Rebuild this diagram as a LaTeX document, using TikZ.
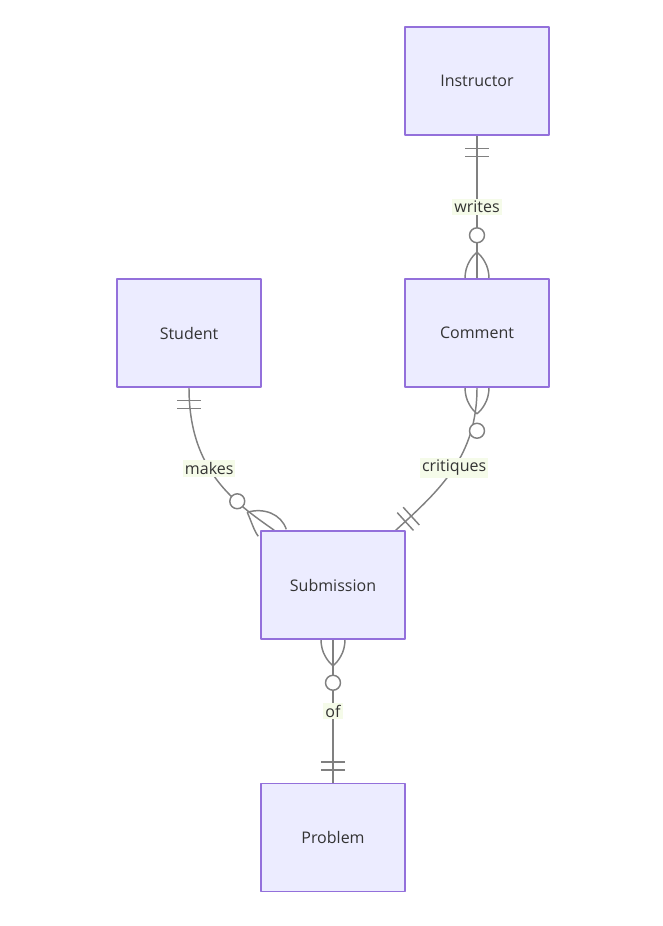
\documentclass[tikz,border=0pt]{standalone}
\usepackage{fontspec}
\setmainfont{Open Sans}
\usetikzlibrary{calc,backgrounds}
\definecolor{boxfill}{HTML}{ECECFF}
\definecolor{boxline}{HTML}{9370DB}
\definecolor{relline}{HTML}{808080}
\definecolor{lblfill}{HTML}{F5FBE9}
\definecolor{txt}{HTML}{333333}
\begin{document}
\begin{tikzpicture}[x=0.75pt,y=-0.75pt,line cap=round,line join=round,font=\fontsize{12}{14}\selectfont,text=txt]
	\tikzset{entity/.style={draw=boxline,fill=boxfill,line width=1.1pt,minimum width=108pt,minimum height=81pt,inner sep=0pt},
	rel/.style={draw=relline,line width=1.1pt},
	rellabel/.style={fill=lblfill,inner sep=1.5pt},
	onebar/.pic={\draw[rel] (-12,13)--(12,13) (-12,21)--(12,21);},
	zeromany/.pic={\draw[rel] (-12,0) .. controls (-12,13) and (-5,22) .. (0,26)
		(12,0) .. controls (12,13) and (5,22) .. (0,26);
		\draw[rel,fill=white] (0,43) circle (5.6pt);}}
	\useasboundingbox (0,0) rectangle (662,926);
	\node[entity] (instructor) at (477,81) {Instructor};
	\node[entity] (student) at (189,333) {Student};
	\node[entity] (comment) at (477,333) {Comment};
	\node[entity] (submission) at (333,585) {Submission};
	\node[entity] (problem) at (333,837.5) {Problem};
	\coordinate (subnw) at ($(submission.north west)+(14,0)$);
	\coordinate (subne) at ($(submission.north east)+(-10,0)$);
	\begin{scope}[on background layer]
	\draw[rel] (instructor) -- node[rellabel]{writes} (comment);
	\pic at (instructor.south) {onebar};
	\pic[rotate=180] at (comment.north) {zeromany};
	% makes
	\draw[rel] (student.south) .. controls +(0,83) and +(-40,-28) .. (subnw) node[rellabel,pos=0.42]{makes};
	\pic at (student.south) {onebar};
	\begin{scope}[shift={(subnw)}]
	\draw[rel] (-27,-18) .. controls (-23,-9) and (-20,1) .. (-16,6)
		(-27,-18) .. controls (-10,-23) and (7,-16) .. (12,-1);
	\draw[rel,fill=white] (-37,-29) circle (5.6pt);
	\end{scope}
	% critiques
	\draw[rel] (comment.south) .. controls +(0,68) and +(45,-41) .. (subne) node[rellabel,pos=0.49]{critiques};
	\pic at (comment.south) {zeromany};
	\pic[rotate=132.3] at (subne) {onebar};
	\draw[rel] (submission) -- node[rellabel]{of} (problem);
	\pic at (submission.south) {zeromany};
	\pic[rotate=180] at (problem.north) {onebar};
	\end{scope}
\end{tikzpicture}
\end{document}
